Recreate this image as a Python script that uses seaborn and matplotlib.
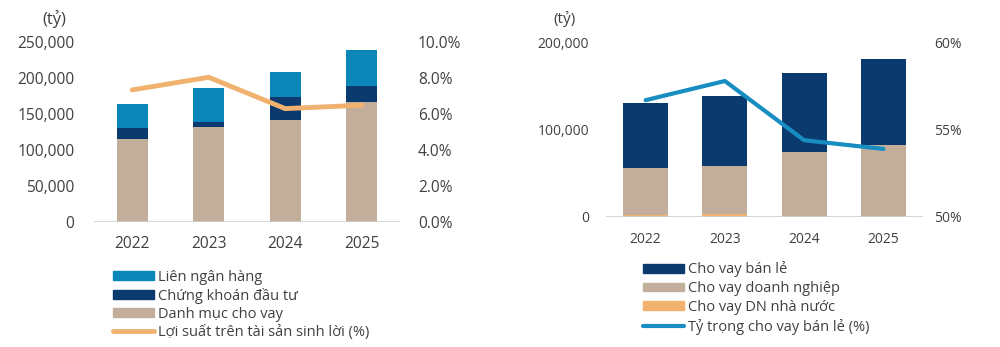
import numpy as np
import pandas as pd
import matplotlib
matplotlib.use("Agg")
import matplotlib.pyplot as plt
import seaborn as sns
from matplotlib.patches import Patch
from matplotlib.lines import Line2D
from matplotlib.ticker import FuncFormatter

years = ["2022", "2023", "2024", "2025"]

# Left chart (tỷ)
danh_muc_cho_vay = [115500, 131700, 141400, 166400]
chung_khoan_dau_tu = [15700, 6900, 31900, 22600]
lien_ngan_hang = [32800, 47600, 35600, 49900]
loi_suat = [7.34, 8.04, 6.30, 6.49]

# Right chart (tỷ)
cho_vay_dn_nha_nuoc = [2000, 3400, 1000, 500]
cho_vay_doanh_nghiep = [53700, 55000, 73000, 81900]
cho_vay_ban_le = [74500, 80900, 90900, 98900]
ty_trong_ban_le = [56.7, 57.8, 54.4, 53.9]

sns.set_theme(style="white")
plt.rcParams['font.family'] = ['Open Sans', 'DejaVu Sans']

TXT = "#404040"
C_LIGHT = "#0a86b8"
C_NAVY = "#0b3a6e"
C_BEIGE = "#c2ae9a"
C_ORANGE = "#f0b26e"
C_BLUE = "#178dc2"

fig = plt.figure(figsize=(10, 3.47), dpi=100)

def style_axes(ax, fs):
    for s in ax.spines.values():
        s.set_visible(False)
    ax.tick_params(axis="both", length=0, colors=TXT, labelsize=fs)
    ax.set_xlabel("")
    ax.set_ylabel("")

# ---------- Left ----------
axL = fig.add_axes([0.094, 0.360, 0.306, 0.519])
c1 = np.array(danh_muc_cho_vay)
c2 = c1 + np.array(chung_khoan_dau_tu)
c3 = c2 + np.array(lien_ngan_hang)
for vals, col in [(c3, C_LIGHT), (c2, C_NAVY), (c1, C_BEIGE)]:
    sns.barplot(x=years, y=vals, color=col, width=0.4, ax=axL, saturation=1, edgecolor="none")
axL.set_ylim(0, 250000)
axL.set_xlim(-0.5, 3.5)
axL.axhline(0, color="#d0d0d0", lw=1.2, zorder=5)
axL.yaxis.set_major_formatter(FuncFormatter(lambda v, p: f"{int(v):,}"))
axL.set_yticks(np.arange(0, 250001, 50000))
style_axes(axL, 11.2)
axL.tick_params(axis="y", pad=14)
axL.tick_params(axis="x", pad=10)

axL2 = axL.twinx()
sns.lineplot(x=np.arange(len(years)), y=loi_suat, color=C_ORANGE, lw=3.5, ax=axL2)
axL2.set_ylim(0, 10)
axL2.set_yticks(np.arange(0, 10.01, 2))
axL2.yaxis.set_major_formatter(FuncFormatter(lambda v, p: f"{v:.1f}%"))
style_axes(axL2, 11.2)
axL2.tick_params(axis="y", pad=13)
fig.text(0.042, 0.945, "(tỷ)", color=TXT, fontsize=12, va="center")

# ---------- Right ----------
axR = fig.add_axes([0.606, 0.375, 0.317, 0.502])
r1 = np.array(cho_vay_dn_nha_nuoc)
r2 = r1 + np.array(cho_vay_doanh_nghiep)
r3 = r2 + np.array(cho_vay_ban_le)
for vals, col in [(r3, C_NAVY), (r2, C_BEIGE), (r1, C_ORANGE)]:
    sns.barplot(x=years, y=vals, color=col, width=0.57, ax=axR, saturation=1, edgecolor="none")
axR.set_ylim(0, 200000)
axR.set_xlim(-0.5, 3.5)
axR.axhline(0, color="#d0d0d0", lw=1.2, zorder=5)
axR.set_yticks([0, 100000, 200000])
axR.yaxis.set_major_formatter(FuncFormatter(lambda v, p: f"{int(v):,}"))
style_axes(axR, 10)
axR.tick_params(axis="y", pad=12)
axR.tick_params(axis="x", pad=11)

axR2 = axR.twinx()
sns.lineplot(x=np.arange(len(years)), y=ty_trong_ban_le, color=C_BLUE, lw=3, ax=axR2)
axR2.set_ylim(50, 60)
axR2.set_yticks([50, 55, 60])
axR2.yaxis.set_major_formatter(FuncFormatter(lambda v, p: f"{int(v)}%"))
style_axes(axR2, 10)
axR2.tick_params(axis="y", pad=8)
fig.text(0.553, 0.945, "(tỷ)", color=TXT, fontsize=11, va="center")

# ---------- Legends ----------
hL = [Patch(color=C_LIGHT), Patch(color=C_NAVY), Patch(color=C_BEIGE),
      Line2D([0], [0], color=C_ORANGE, lw=3.5)]
lL = ["Liên ngân hàng", "Chứng khoán đầu tư", "Danh mục cho vay", "Lợi suất trên tài sản sinh lời (%)"]
fig.legend(hL, lL, loc="upper left", bbox_to_anchor=(0.106, 0.243), frameon=False,
           fontsize=10.5, handlelength=2.8, handleheight=0.55, handletextpad=0.25,
           labelspacing=0.2, borderpad=0, labelcolor=TXT)

hR = [Patch(color=C_NAVY), Patch(color=C_BEIGE), Patch(color=C_ORANGE),
      Line2D([0], [0], color=C_BLUE, lw=3)]
lR = ["Cho vay bán lẻ", "Cho vay doanh nghiệp", "Cho vay DN nhà nước", "Tỷ trọng cho vay bán lẻ (%)"]
fig.legend(hR, lR, loc="upper left", bbox_to_anchor=(0.636, 0.268), frameon=False,
           fontsize=10.5, handlelength=2.8, handleheight=0.55, handletextpad=0.25,
           labelspacing=0.26, borderpad=0, labelcolor=TXT)

fig.savefig("out.png", dpi=100, facecolor="white")
